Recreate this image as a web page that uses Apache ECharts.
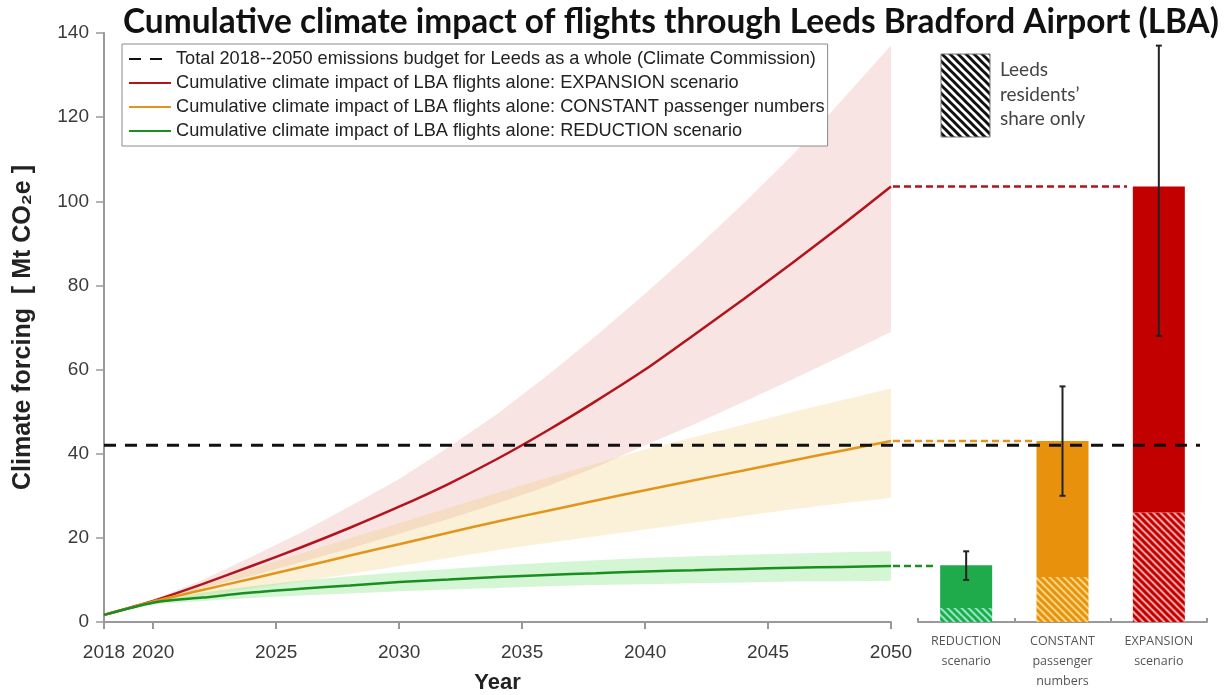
<!DOCTYPE html>
<html>
<head>
<meta charset="utf-8">
<script src="https://cdn.jsdelivr.net/npm/echarts@6/dist/echarts.min.js"></script>
<style>
html,body{margin:0;padding:0;background:#fff;}
#chart{width:1230px;height:695px;}
</style>
</head>
<body>
<div id="chart"></div>
<script>
// ---------------- DATA ----------------
const years = [2018, 2020, 2022, 2024, 2026, 2028, 2030, 2032, 2034, 2036, 2038, 2040, 2042, 2044, 2046, 2048, 2050];
const xTickYears = [2018, 2020, 2025, 2030, 2035, 2040, 2045, 2050];

const expansion     = [1.7, 5.0, 9.0, 13.3, 17.7, 22.4, 27.4, 32.8, 38.8, 45.4, 52.5, 60.0, 68.3, 76.7, 85.4, 94.3, 103.5];
const expansionLow  = [1.7, 4.6, 8.0, 11.0, 14.2, 17.5, 21.0, 24.5, 28.2, 32.2, 36.8, 42.0, 47.0, 52.3, 57.7, 63.2, 69.0];
const expansionHigh = [1.7, 5.3, 10.0, 15.5, 21.2, 27.5, 34.0, 41.5, 49.5, 58.5, 68.0, 78.0, 88.5, 99.5, 111.0, 124.0, 137.0];

const constant      = [1.7, 4.9, 7.6, 10.3, 13.0, 15.8, 18.5, 21.2, 23.9, 26.4, 28.9, 31.3, 33.7, 36.0, 38.4, 40.7, 43.0];
const constantLow   = [1.7, 4.5, 6.2, 7.9, 9.6, 11.4, 13.3, 15.2, 17.1, 18.8, 20.4, 22.0, 23.6, 25.2, 26.8, 28.2, 29.5];
const constantHigh  = [1.7, 5.3, 8.8, 12.6, 16.3, 19.9, 23.5, 27.1, 30.7, 34.2, 37.6, 41.0, 44.0, 46.9, 49.9, 52.7, 55.5];

const reduction     = [1.7, 4.6, 5.8, 7.0, 7.9, 8.7, 9.5, 10.1, 10.7, 11.2, 11.6, 12.0, 12.3, 12.6, 12.9, 13.1, 13.3];
const reductionLow  = [1.7, 4.2, 5.0, 5.7, 6.3, 6.8, 7.3, 7.7, 8.1, 8.5, 8.8, 9.0, 9.2, 9.4, 9.6, 9.7, 9.8];
const reductionHigh = [1.7, 5.1, 7.0, 8.5, 9.8, 10.9, 11.8, 12.6, 13.4, 14.1, 14.7, 15.2, 15.6, 16.0, 16.3, 16.6, 16.8];

const budget = 42;

const scenarios      = ['REDUCTION\nscenario', 'CONSTANT\npassenger\nnumbers', 'EXPANSION\nscenario'];
const barTotals      = [13.5, 43.0, 103.5];
const residentsShare = [3.3, 10.7, 26.0];
const errLow         = [10.0, 30.0, 68.0];
const errHigh        = [16.8, 56.0, 137.0];

const names = [
  'Total 2018--2050 emissions budget for Leeds as a whole (Climate Commission)',
  'Cumulative climate impact of LBA flights alone: EXPANSION scenario',
  'Cumulative climate impact of LBA flights alone: CONSTANT passenger numbers',
  'Cumulative climate impact of LBA flights alone: REDUCTION scenario'
];

// ---------------- LAYOUT / STYLE ----------------
const G_TOP = 33, G_H = 589;
const L_LEFT = 104, L_W = 787;
const B_LEFT = 918, B_W = 289;
const O_W = B_LEFT + B_W - L_LEFT;
const frac = px => (px - L_LEFT) / O_W;

const RED = '#b3141c', ORANGE = '#e3951b', GREEN = '#1b8e22';
const barSolid = ['#1faa4c', '#e8910c', '#c20000'];
const barLight = ['#8fe8c0', '#fbd580', '#f5a3a3'];

function hatch(bg, fg, p, w) {
  const c = document.createElement('canvas');
  c.width = p; c.height = p;
  const ctx = c.getContext('2d');
  ctx.fillStyle = bg; ctx.fillRect(0, 0, p, p);
  ctx.strokeStyle = fg; ctx.lineWidth = w;
  for (let k = -1; k <= 1; k++) {
    ctx.beginPath();
    ctx.moveTo(k * p - 1, -1);
    ctx.lineTo(k * p + p + 1, p + 1);
    ctx.stroke();
  }
  return c;
}

const pair = (xs, ys) => xs.map((x, i) => [x, ys[i]]);

function band(lo, hi, color) {
  return {
    type: 'custom', xAxisIndex: 0, yAxisIndex: 0, clip: false, silent: true, z: 1,
    data: years.map((y, i) => [y, lo[i], hi[i]]),
    renderItem: function (params, api) {
      if (params.dataIndex !== 0) return null;
      const pts = [];
      for (let i = 0; i < years.length; i++) pts.push(api.coord([years[i], hi[i]]));
      for (let i = years.length - 1; i >= 0; i--) pts.push(api.coord([years[i], lo[i]]));
      return { type: 'polygon', shape: { points: pts, smooth: 0 }, style: { fill: color } };
    }
  };
}
function mainLine(name, vals, color) {
  return { name: name, type: 'line', xAxisIndex: 0, yAxisIndex: 0, data: pair(years, vals),
    symbol: 'none', smooth: 0.25, color: color,
    lineStyle: { color: color, width: 2.5 }, z: 5 };
}
function connector(val, endPx, color) {
  return { type: 'line', xAxisIndex: 2, yAxisIndex: 2, data: [[frac(L_LEFT + L_W + 2), val], [frac(endPx), val]],
    symbol: 'none', lineStyle: { color: color, width: 2.5, type: [7, 4] }, silent: true, z: 6 };
}

const axisFont = { fontFamily: 'Liberation Sans, Arial, sans-serif', fontSize: 19, color: '#3a3a3a' };

const chart = echarts.init(document.getElementById('chart'));
const option = {
  backgroundColor: '#fff',
  animation: false,
  title: {
    text: 'Cumulative climate impact of flights through Leeds Bradford Airport (LBA)',
    left: 123, top: 6, padding: 0,
    textStyle: { fontFamily: 'Lato, sans-serif', fontWeight: 'bold', fontSize: 33.4, color: '#111' }
  },
  legend: {
    data: names,
    orient: 'vertical',
    left: 122, top: 44,
    itemWidth: 42, itemHeight: 14, itemGap: 6,
    padding: [6, 3, 6, 6],
    borderColor: '#8a8a8a', borderWidth: 1,
    backgroundColor: '#fff',
    selectedMode: false,
    itemStyle: { opacity: 0 },
    textStyle: { fontFamily: 'Liberation Sans, Arial, sans-serif', fontSize: 18.2, lineHeight: 18, color: '#222' }
  },
  grid: [
    { left: L_LEFT, top: G_TOP, width: L_W, height: G_H, outerBoundsMode: 'none', containLabel: false },
    { left: B_LEFT, top: G_TOP, width: B_W, height: G_H, outerBoundsMode: 'none', containLabel: false },
    { left: L_LEFT, top: G_TOP, width: O_W, height: G_H, outerBoundsMode: 'none', containLabel: false }
  ],
  xAxis: [
    { type: 'value', gridIndex: 0, min: 2018, max: 2050,
      name: 'Year', nameLocation: 'middle', nameGap: 50,
      nameTextStyle: { fontFamily: 'Liberation Sans, Arial, sans-serif', fontWeight: 'bold', fontSize: 22, color: '#222' },
      axisLine: { lineStyle: { color: '#999', width: 2 } },
      axisTick: { show: true, length: 7, lineStyle: { color: '#999', width: 2 }, customValues: xTickYears },
      axisLabel: Object.assign({ margin: 21, customValues: xTickYears, formatter: v => String(v) }, axisFont),
      splitLine: { show: false } },
    { type: 'category', gridIndex: 1, data: scenarios,
      axisLine: { lineStyle: { color: '#999', width: 2 } },
      axisTick: { show: true, inside: true, length: 4, lineStyle: { color: '#999', width: 2 } },
      axisLabel: { fontFamily: 'Open Sans, sans-serif', fontSize: 12.5, color: '#555', lineHeight: 20, margin: 9 } },
    { type: 'value', gridIndex: 2, min: 0, max: 1, show: false }
  ],
  yAxis: [
    { type: 'value', gridIndex: 0, min: 0, max: 140, interval: 20,
      name: 'Climate forcing  [ Mt CO\u2082e ]', nameLocation: 'middle', nameGap: 68, nameRotate: 90,
      nameTextStyle: { fontFamily: 'Liberation Sans, Arial, sans-serif', fontWeight: 'bold', fontSize: 25, color: '#222' },
      axisLine: { show: true, lineStyle: { color: '#999', width: 2 } },
      axisTick: { show: true, length: 8, lineStyle: { color: '#999', width: 1.5 } },
      axisLabel: Object.assign({ margin: 15 }, axisFont),
      splitLine: { show: false } },
    { type: 'value', gridIndex: 1, min: 0, max: 140, show: false },
    { type: 'value', gridIndex: 2, min: 0, max: 140, show: false }
  ],
  graphic: [
    { type: 'rect', shape: { x: 941, y: 54, width: 49, height: 83 },
      style: { fill: { image: hatch('#ffffff', '#111111', 8, 3), repeat: 'repeat' }, stroke: '#777', lineWidth: 1 } },
    { type: 'text', left: 1000, top: 58,
      style: { text: 'Leeds\nresidents\u2019\nshare only', font: '19px Lato, sans-serif', fill: '#444', lineHeight: 24.5 } }
  ],
  series: [
    band(expansionLow, expansionHigh, 'rgba(225,120,120,0.2)'),
    band(constantLow, constantHigh, 'rgba(235,200,100,0.25)'),
    band(reductionLow, reductionHigh, 'rgba(100,220,100,0.27)'),
    mainLine(names[1], expansion, RED),
    mainLine(names[2], constant, ORANGE),
    mainLine(names[3], reduction, GREEN),
    // bars: hatched Leeds-residents share + remainder
    { type: 'bar', xAxisIndex: 1, yAxisIndex: 1, stack: 'bars', barWidth: 52,
      data: residentsShare.map((v, i) => ({ value: v,
        itemStyle: { color: { image: hatch(barLight[i], barSolid[i], 7, 3), repeat: 'repeat' } } })),
      z: 3 },
    { type: 'bar', xAxisIndex: 1, yAxisIndex: 1, stack: 'bars', barWidth: 52,
      data: barTotals.map((v, i) => ({ value: v - residentsShare[i], itemStyle: { color: barSolid[i] } })),
      z: 3 },
    // error bars
    { type: 'custom', xAxisIndex: 1, yAxisIndex: 1, z: 8,
      data: scenarios.map((s, i) => [i, errLow[i], errHigh[i]]),
      renderItem: function (params, api) {
        const lo = api.coord([api.value(0), api.value(1)]);
        const hi = api.coord([api.value(0), api.value(2)]);
        const st = { stroke: '#222', lineWidth: 2 };
        return { type: 'group', children: [
          { type: 'line', shape: { x1: lo[0], y1: lo[1], x2: hi[0], y2: hi[1] }, style: st },
          { type: 'line', shape: { x1: lo[0] - 3, y1: lo[1], x2: lo[0] + 3, y2: lo[1] }, style: st },
          { type: 'line', shape: { x1: hi[0] - 3, y1: hi[1], x2: hi[0] + 3, y2: hi[1] }, style: st }
        ] };
      } },
    // connectors from 2050 values to bars
    connector(expansion[expansion.length - 1], 1127, RED),
    connector(constant[constant.length - 1], 1032, ORANGE),
    connector(reduction[reduction.length - 1], 936, GREEN),
    // budget line
    { name: names[0], type: 'line', xAxisIndex: 2, yAxisIndex: 2,
      data: [[0, budget], [frac(1200), budget]], symbol: 'none', color: '#111',
      lineStyle: { color: '#111', width: 3, type: [12, 9] }, z: 9 }
  ]
};
chart.setOption(option);
</script>
</body>
</html>
